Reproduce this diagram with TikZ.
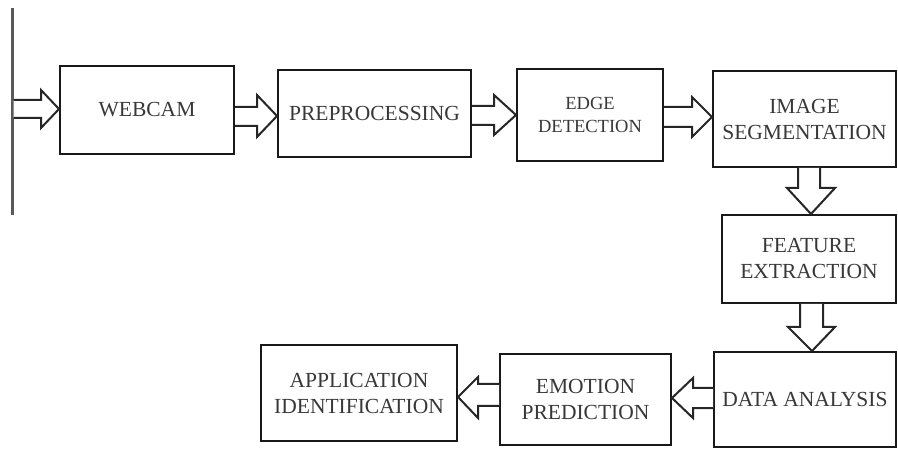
\documentclass[tikz,border=0pt]{standalone}
\usepackage{fontspec}
\setmainfont{Liberation Serif}
\usetikzlibrary{calc}
\tikzset{
  box/.style={draw=black!90, line width=2pt, fill=white, inner sep=0pt, align=center,
    text=black!78, font=\fontsize{21.5}{26}\selectfont},
  blkarrow/.style={draw=black!85, line width=2pt, fill=white, line join=miter},
}
% horizontal block arrow: src, tgt, shaft top y, shaft bottom y, head top y, head bottom y, tip y, head offset
\newcommand\blkH[8]{%
  \draw[blkarrow] (#1 |- 0,#3) -- ($(#2 |- 0,#3)+(#8,0)$) -- ($(#2 |- 0,#5)+(#8,0)$)
    -- (#2 |- 0,#7) -- ($(#2 |- 0,#6)+(#8,0)$) -- ($(#2 |- 0,#4)+(#8,0)$) -- (#1 |- 0,#4);}
% vertical block arrow: src, tgt, shaft left x, shaft right x, head left x, head right x, tip x, head offset
\newcommand\blkV[8]{%
  \draw[blkarrow] (#3,0 |- #1) -- ($(#3,0 |- #2)+(0,#8)$) -- ($(#5,0 |- #2)+(0,#8)$)
    -- (#7,0 |- #2) -- ($(#6,0 |- #2)+(0,#8)$) -- ($(#4,0 |- #2)+(0,#8)$) -- (#4,0 |- #1);}
\begin{document}
\begin{tikzpicture}[x=1pt,y=-1pt]
\useasboundingbox (0,0) rectangle (898,449);
% left bar
\draw[line width=3pt, black!65] (12,8) coordinate (bartop) -- (12,215) coordinate (barbot);
\coordinate (bar) at (13.5,109);
% boxes
\node[box, minimum width=174pt, minimum height=88pt] (wc) at (147,110) {WEBCAM};
\node[box, minimum width=193pt, minimum height=87pt] (pp) at (374.5,113.5) {PREPROCESSING};
\node[box, minimum width=146pt, minimum height=92pt, font=\fontsize{18.5}{23}\selectfont] (ed) at (590,115) {EDGE\\DETECTION};
\node[box, minimum width=183pt, minimum height=96pt] (is) at (804.5,119) {IMAGE\\SEGMENTATION};
\node[box, minimum width=174pt, minimum height=88pt] (fe) at (809,259) {FEATURE\\EXTRACTION};
\node[box, minimum width=182pt, minimum height=95pt] (da) at (805,399.5) {DATA ANALYSIS};
\node[box, minimum width=171pt, minimum height=91pt] (em) at (585.5,399.5) {EMOTION\\PREDICTION};
\node[box, minimum width=196pt, minimum height=96pt] (ap) at (359,393) {APPLICATION\\IDENTIFICATION};
% arrows
\blkH{bar}{wc.west}{100}{118}{90}{128}{109}{-18}
\blkH{wc.east}{pp.west}{107}{126}{95}{137}{116}{-20}
\blkH{pp.east}{ed.west}{106}{125}{95}{135}{115}{-22}
\blkH{ed.east}{is.west}{107}{127}{97}{137}{117}{-20}
\blkV{is.south}{fe.north}{798}{820}{787}{835}{811}{-26}
\blkV{fe.south}{da.north}{800}{823}{788}{835}{812}{-24}
\blkH{da.west}{em.east}{388}{408}{378}{418}{398}{21}
\blkH{em.west}{ap.east}{384}{406}{377}{418}{397}{20}
\end{tikzpicture}
\end{document}
